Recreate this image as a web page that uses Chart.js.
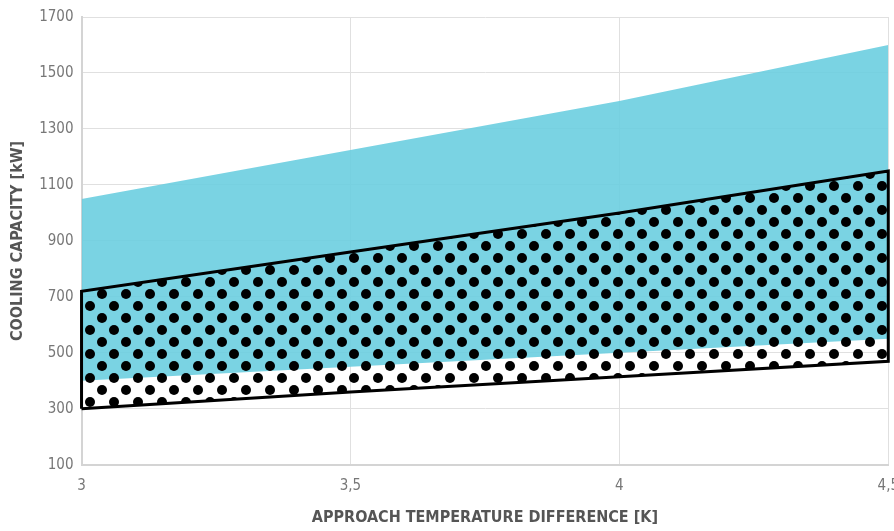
<!DOCTYPE html>
<html lang="en">
<head>
    <meta charset="UTF-8">
    <title>Cooling Capacity vs Approach Temperature Difference</title>
    <style>
        html, body {
            margin: 0;
            padding: 0;
            background: #ffffff;
            overflow: hidden;
        }
        .wrap {
            width: 911px;
            height: 531px;
        }
    </style>
    <script src="https://cdn.jsdelivr.net/npm/chart.js"></script>
</head>
<body>
    <div class="wrap">
        <canvas id="capChart"></canvas>
    </div>

    <script>
        // Approach temperature difference [K]
        const approachK = [3, 3.5, 4, 4.5];
        // Blue band (cooling capacity range, kW)
        const blueLow = [400, 450, 500, 550];
        const blueHigh = [1050, 1225, 1400, 1600];
        // Dotted / outlined band (kW)
        const dotLow = [300, 360, 415, 470];
        const dotHigh = [720, 860, 1000, 1150];
        // axis ticks
        const yTicks = [100, 300, 500, 700, 900, 1100, 1300, 1500, 1700];
        const xTicks = [3, 3.5, 4, 4.5];

        const toPoints = (ys) => approachK.map((x, i) => ({ x: x, y: ys[i] }));

        // closed outline: bottom edge left->right, then top edge right->left
        const outline = toPoints(dotLow).concat(toPoints(dotHigh).reverse());
        outline.push(outline[0]);

        // dot pattern (staggered black dots, transparent background)
        function makeDots() {
            const c = document.createElement('canvas');
            c.width = 24;
            c.height = 24;
            const g = c.getContext('2d');
            g.fillStyle = '#000';
            [[6, 6], [18, 18]].forEach(([cx, cy]) => {
                g.beginPath();
                g.arc(cx, cy, 5, 0, Math.PI * 2);
                g.fill();
            });
            return g.createPattern(c, 'repeat');
        }

        const condensed = "'DejaVu Sans Condensed', 'Liberation Sans Narrow', sans-serif";
        const BLUE = 'rgba(104, 205, 223, 0.88)';

        const ctx = document.getElementById('capChart').getContext('2d');
        const capChart = new Chart(ctx, {
            type: 'line',
            data: {
                datasets: [
                    {
                        label: 'outline',
                        data: outline,
                        borderColor: '#000',
                        borderWidth: 3,
                        pointRadius: 0,
                        fill: false,
                        tension: 0,
                        clip: false,
                        order: 0
                    },
                    {
                        label: 'dotLow',
                        data: toPoints(dotLow),
                        borderWidth: 0,
                        borderColor: 'rgba(0,0,0,0)',
                        pointRadius: 0,
                        fill: false,
                        order: 5
                    },
                    {
                        label: 'dotHigh',
                        data: toPoints(dotHigh),
                        borderWidth: 0,
                        borderColor: 'rgba(0,0,0,0)',
                        backgroundColor: makeDots(),
                        pointRadius: 0,
                        fill: { target: 1 },
                        order: 2
                    },
                    {
                        label: 'blueLow',
                        data: toPoints(blueLow),
                        borderWidth: 0,
                        borderColor: 'rgba(0,0,0,0)',
                        pointRadius: 0,
                        fill: false,
                        order: 6
                    },
                    {
                        label: 'blueHigh',
                        data: toPoints(blueHigh),
                        borderWidth: 0,
                        borderColor: 'rgba(0,0,0,0)',
                        backgroundColor: BLUE,
                        pointRadius: 0,
                        fill: { target: 3 },
                        order: 3
                    }
                ]
            },
            options: {
                responsive: true,
                maintainAspectRatio: false,
                animation: false,
                layout: {
                    padding: { left: 8, top: 10, right: 0, bottom: 0 }
                },
                plugins: {
                    legend: { display: false },
                    tooltip: { enabled: false }
                },
                scales: {
                    x: {
                        type: 'linear',
                        min: 3,
                        max: 4.5,
                        afterBuildTicks: (axis) => {
                            axis.ticks = xTicks.map(v => ({ value: v }));
                        },
                        grid: {
                            color: '#e0e0e0',
                            drawTicks: false
                        },
                        border: { color: '#d4d4d4', width: 2 },
                        ticks: {
                            padding: 12,
                            color: '#777',
                            font: { family: condensed, size: 15 },
                            callback: (v) => String(v).replace('.', ',')
                        },
                        title: {
                            display: true,
                            text: 'APPROACH TEMPERATURE DIFFERENCE [K]',
                            color: '#555',
                            font: { family: condensed, size: 16, weight: 'bold' },
                            padding: { top: 1, bottom: 4 }
                        }
                    },
                    y: {
                        min: 100,
                        max: 1700,
                        afterBuildTicks: (axis) => {
                            axis.ticks = yTicks.map(v => ({ value: v }));
                        },
                        grid: {
                            color: '#e0e0e0',
                            drawTicks: false
                        },
                        border: { color: '#d4d4d4', width: 2 },
                        ticks: {
                            padding: 8,
                            color: '#777',
                            font: { family: condensed, size: 15 },
                            callback: (v) => String(v)
                        },
                        title: {
                            display: true,
                            text: 'COOLING CAPACITY [kW]',
                            color: '#555',
                            font: { family: condensed, size: 16, weight: 'bold' },
                            padding: { top: 0, bottom: 4 }
                        }
                    }
                }
            }
        });
    </script>
</body>
</html>
